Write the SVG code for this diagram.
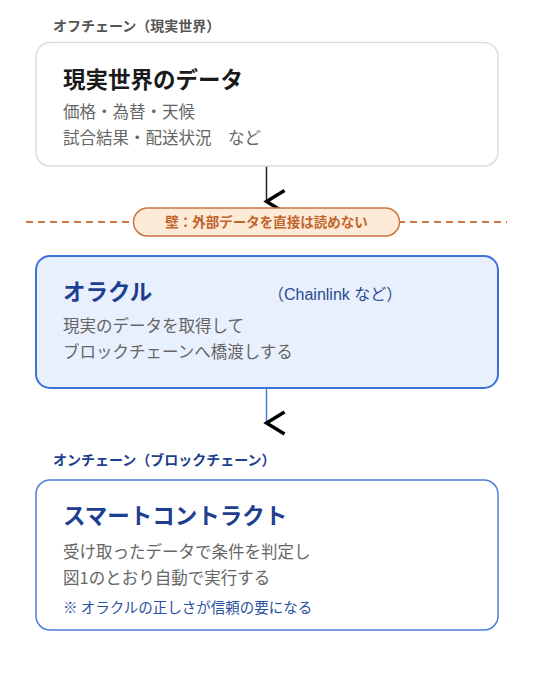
<svg xmlns="http://www.w3.org/2000/svg" width="533" height="675" viewBox="0 0 533 675">
  <defs>
    <marker id="chev" markerUnits="userSpaceOnUse" viewBox="0 0 22 26" refX="2" refY="13" markerWidth="22" markerHeight="26" orient="0" overflow="visible">
      <path d="M20,2 L2,13 L20,24" fill="none" stroke="#000" stroke-width="3.4" stroke-linecap="butt" stroke-linejoin="miter"/>
    </marker>
    <style>
      text { font-family: "Noto Sans CJK JP", "Noto Sans", sans-serif; }
      .zone { font-size: 14px; font-weight: 700; }
      .box { stroke-width: 1.5; }
      .title { font-size: 22.5px; font-weight: 700; }
      .body { font-size: 16.5px; fill: #666666; }
      .blue { fill: #1e3f8f; }
    </style>
  </defs>
  <rect width="533" height="675" fill="#ffffff"/>

  <text class="zone" x="53" y="31" fill="#555555">オフチェーン（現実世界）</text>
  <text class="zone" x="53" y="465" fill="#1e3f8f">オンチェーン（ブロックチェーン）</text>

  <g id="connectors">
    <line x1="266.5" y1="166" x2="266.5" y2="201.5" stroke="#222222" stroke-width="1.5" marker-end="url(#chev)"/>
    <line x1="266.5" y1="389" x2="266.5" y2="423" stroke="#4a7fd6" stroke-width="1.5" marker-end="url(#chev)"/>
  </g>

  <g id="realworld">
    <rect class="box" x="36" y="42.5" width="462" height="123.5" rx="14" fill="#ffffff" stroke="#dddddd"/>
    <text class="title" x="63" y="88" fill="#1a1a1a">現実世界のデータ</text>
    <text class="body" x="63" y="118">価格・為替・天候</text>
    <text class="body" x="63" y="144">試合結果・配送状況　など</text>
  </g>

  <g id="wall">
    <line x1="26" y1="222" x2="507" y2="222" stroke="#c8773f" stroke-width="2" stroke-dasharray="7 5"/>
    <rect x="133.5" y="208" width="266" height="28" rx="14" fill="#fdebd8" stroke="#c8773f" stroke-width="1.5"/>
    <text x="266.5" y="227" text-anchor="middle" font-size="13.5" font-weight="700" fill="#c0642a">壁：外部データを直接は読めない</text>
  </g>

  <g id="oracle">
    <rect x="36" y="256" width="462" height="132" rx="14" fill="#e8f0fe" stroke="#3d71da" stroke-width="2"/>
    <text class="title blue" x="63" y="300">オラクル</text>
    <text x="268" y="300" font-size="16" fill="#2a4a8f" style="font-family: 'Liberation Sans', 'Noto Sans CJK JP', sans-serif">（Chainlink など）</text>
    <text class="body" x="63" y="332">現実のデータを取得して</text>
    <text class="body" x="63" y="358">ブロックチェーンへ橋渡しする</text>
  </g>

  <g id="contract">
    <rect class="box" x="36" y="480" width="462" height="150" rx="14" fill="#ffffff" stroke="#4f7fd8"/>
    <text class="title blue" x="63" y="524">スマートコントラクト</text>
    <text class="body" x="63" y="558">受け取ったデータで条件を判定し</text>
    <text class="body" x="63" y="584">図1のとおり自動で実行する</text>
    <text x="63" y="613" font-size="14.5" fill="#2a4fa0">※ オラクルの正しさが信頼の要になる</text>
  </g>
</svg>
